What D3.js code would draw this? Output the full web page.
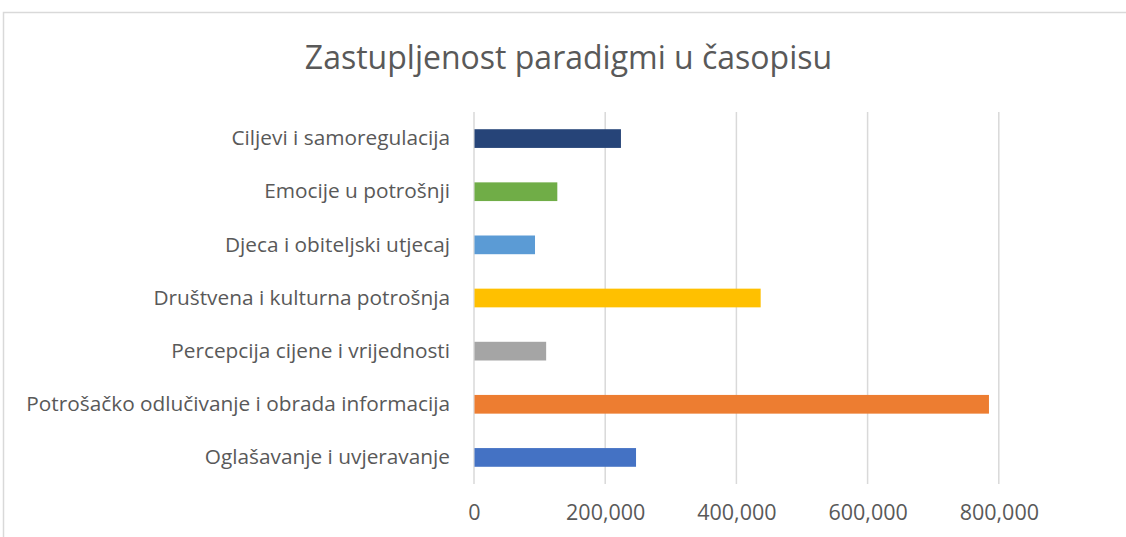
<!DOCTYPE html>
<html>
<head>
<meta charset="utf-8">
<script src="https://cdn.jsdelivr.net/npm/d3@7"></script>
<style>
  html, body { margin: 0; padding: 0; background: #fff; overflow: hidden; }
  svg { display: block; }
</style>
</head>
<body>
<svg id="chart" width="1126" height="537"></svg>
<script>
const title = "Zastupljenost paradigmi u časopisu";
const categories = [
  "Ciljevi i samoregulacija",
  "Emocije u potrošnji",
  "Djeca i obiteljski utjecaj",
  "Društvena i kulturna potrošnja",
  "Percepcija cijene i vrijednosti",
  "Potrošačko odlučivanje i obrada informacija",
  "Oglašavanje i uvjeravanje"
];
const values = [224000, 127000, 93000, 437000, 110000, 785000, 247000];
const colors = ["#264478", "#70AD47", "#5B9BD5", "#FFC000", "#A5A5A5", "#ED7D31", "#4472C4"];
const tickValues = [0, 200000, 400000, 600000, 800000];
const axisMax = 1000000;

const font = "'Open Sans', sans-serif";
const svg = d3.select("#chart");

// chart frame (cropped at right/bottom like the reference)
svg.append("path")
  .attr("d", "M3.5,540 V12.5 H1130")
  .attr("fill", "none")
  .attr("stroke", "#d9d9d9").attr("stroke-width", 1.5);

const plot = { left: 474, right: 1130, top: 112, bottom: 484 };

const x = d3.scaleLinear().domain([0, axisMax]).range([plot.left, plot.right]);
const y = d3.scaleBand().domain(categories).range([plot.top, plot.bottom]).padding(0);

// gridlines
svg.append("g").selectAll("line")
  .data(tickValues)
  .join("line")
  .attr("x1", d => x(d)).attr("x2", d => x(d))
  .attr("y1", plot.top).attr("y2", plot.bottom)
  .attr("stroke", "#d9d9d9").attr("stroke-width", 1.5);

// bars
const barFrac = 0.352;
svg.append("g").selectAll("rect")
  .data(categories)
  .join("rect")
  .attr("x", x(0) + 0.5)
  .attr("y", d => y(d) + y.bandwidth() * (1 - barFrac) / 2)
  .attr("width", (d, i) => x(values[i]) - x(0) - 0.5)
  .attr("height", y.bandwidth() * barFrac)
  .attr("fill", (d, i) => colors[i]);

// category axis
const yAxis = d3.axisLeft(y).tickSize(0).tickPadding(24);
const gy = svg.append("g").attr("transform", `translate(${plot.left},0)`).call(yAxis);
gy.select(".domain").remove();
gy.selectAll("text")
  .attr("fill", "#595959")
  .style("font-family", font)
  .style("font-size", "20.8px");

// value axis
const fmt = d3.format(",");
const xAxis = d3.axisBottom(x).tickValues(tickValues).tickFormat(fmt).tickSize(0).tickPadding(21);
const gx = svg.append("g").attr("transform", `translate(0,${plot.bottom})`).call(xAxis);
gx.select(".domain").remove();
gx.selectAll("text")
  .attr("fill", "#595959")
  .style("font-family", font)
  .style("font-size", "21.5px");

// title
svg.append("text")
  .attr("x", 568.5).attr("y", 69)
  .attr("text-anchor", "middle")
  .attr("fill", "#595959")
  .style("font-family", font)
  .style("font-size", "32px")
  .text(title);

// keep the right edge clear (chart is cropped there in the reference)
svg.append("rect")
  .attr("x", 1108).attr("y", 14)
  .attr("width", 18).attr("height", 523)
  .attr("fill", "#fff");
</script>
</body>
</html>
